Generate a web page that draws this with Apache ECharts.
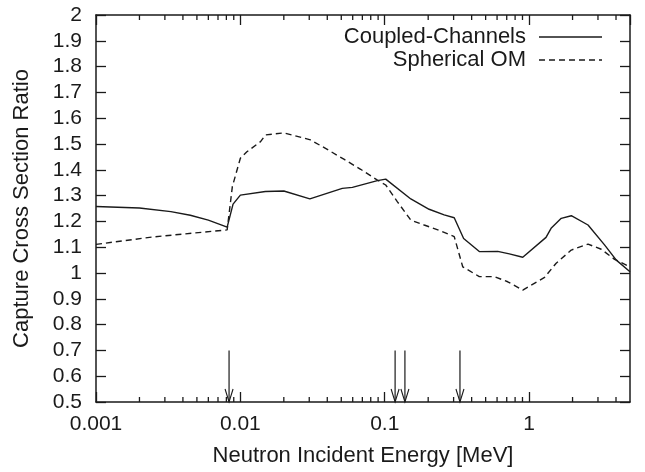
<!DOCTYPE html>
<html>
<head>
<meta charset="utf-8">
<script src="https://cdn.jsdelivr.net/npm/echarts@6/dist/echarts.min.js"></script>
<style>
  html, body { margin: 0; padding: 0; background: #fff; }
  #chart { width: 645px; height: 472px; }
</style>
</head>
<body>
<div id="chart"></div>
<script>
// Capture cross section ratio vs. neutron incident energy (MeV)
const ccEnergy = [0.001, 0.002, 0.0033, 0.0045, 0.006, 0.0081, 0.0089, 0.01, 0.0149, 0.02, 0.0303, 0.0508, 0.0597, 0.089, 0.1016, 0.1516, 0.203, 0.258, 0.303, 0.352, 0.452, 0.606, 0.73, 0.904, 1.31, 1.42, 1.67, 1.96, 2.56, 3.33, 4.02, 5.0];
const ccRatio  = [1.258, 1.252, 1.238, 1.224, 1.205, 1.178, 1.267, 1.302, 1.316, 1.318, 1.287, 1.328, 1.332, 1.358, 1.364, 1.287, 1.247, 1.225, 1.214, 1.134, 1.083, 1.084, 1.074, 1.061, 1.138, 1.173, 1.212, 1.222, 1.186, 1.109, 1.050, 1.005];

const omEnergy = [0.001, 0.0025, 0.0081, 0.0088, 0.01, 0.0111, 0.0138, 0.0149, 0.02, 0.0306, 0.04, 0.0521, 0.0681, 0.089, 0.1016, 0.1225, 0.1516, 0.1875, 0.245, 0.303, 0.347, 0.452, 0.574, 0.711, 0.904, 1.28, 1.54, 1.96, 2.56, 3.16, 3.91, 5.0];
const omRatio  = [1.111, 1.140, 1.167, 1.335, 1.445, 1.470, 1.509, 1.535, 1.543, 1.516, 1.479, 1.441, 1.402, 1.360, 1.341, 1.276, 1.205, 1.186, 1.163, 1.141, 1.024, 0.986, 0.986, 0.966, 0.934, 0.983, 1.038, 1.089, 1.112, 1.092, 1.053, 1.024];

// level energies marked with arrows
const arrowEnergy = [0.00835, 0.118, 0.138, 0.332];
const arrowTop = 0.7;

// axis ticks
const xDecades = [0.001, 0.01, 0.1, 1];
const xTickLabels = ['0.001', '0.01', '0.1', '1'];
const minorMultipliers = [2, 3, 4, 5, 6, 7, 8, 9];
const xMin = 0.001, xMax = 5;
const yMin = 0.5, yMax = 2, yStep = 0.1;

const seriesNames = ['Coupled-Channels', 'Spherical OM'];

const FONT = 'Liberation Sans, Arial, Helvetica, sans-serif';
const INK = '#1a1a1a';

const ccData = ccEnergy.map((e, i) => [e, ccRatio[i]]);
const omData = omEnergy.map((e, i) => [e, omRatio[i]]);

const minorTicks = [];
xDecades.forEach(d => minorMultipliers.forEach(m => {
  const v = d * m;
  if (v < xMax) minorTicks.push([v]);
}));

function fmtX(v) {
  for (let i = 0; i < xDecades.length; i++) {
    if (Math.abs(v - xDecades[i]) < xDecades[i] * 1e-6) return xTickLabels[i];
  }
  return '';
}

const chart = echarts.init(document.getElementById('chart'), null, { renderer: 'canvas' });

const tickStyle = { color: INK, width: 1.3 };

chart.setOption({
  backgroundColor: '#fff',
  animation: false,
  grid: { left: 96, right: 15, top: 15, bottom: 70, containLabel: false },
  xAxis: [
    {
      type: 'log', logBase: 10, min: xMin, max: xMax, position: 'bottom',
      axisLine: { show: true, lineStyle: { color: INK, width: 1.5 } },
      axisTick: { show: true, inside: true, length: 10, lineStyle: tickStyle },
      axisLabel: { show: true, margin: 12, fontSize: 21, fontFamily: FONT, color: INK, formatter: fmtX, showMaxLabel: false },
      splitLine: { show: false },
      name: 'Neutron Incident Energy [MeV]', nameLocation: 'middle', nameGap: 43,
      nameTextStyle: { fontSize: 22, fontFamily: FONT, color: INK }
    },
    {
      type: 'log', logBase: 10, min: xMin, max: xMax, position: 'top',
      axisLine: { show: true, lineStyle: { color: INK, width: 1.5 } },
      axisTick: { show: true, inside: true, length: 10, lineStyle: tickStyle },
      axisLabel: { show: false },
      splitLine: { show: false }
    }
  ],
  yAxis: [
    {
      type: 'value', min: yMin, max: yMax, interval: yStep, position: 'left',
      axisLine: { show: true, lineStyle: { color: INK, width: 1.5 } },
      axisTick: { show: true, inside: true, length: 10, lineStyle: tickStyle },
      axisLabel: { margin: 14, fontSize: 21, fontFamily: FONT, color: INK,
        formatter: v => String(Math.round(v * 10) / 10) },
      splitLine: { show: false },
      name: 'Capture Cross Section Ratio', nameLocation: 'middle', nameGap: 63, nameRotate: 90,
      nameTextStyle: { fontSize: 22, fontFamily: FONT, color: INK }
    },
    {
      type: 'value', min: yMin, max: yMax, interval: yStep, position: 'right',
      axisLine: { show: true, lineStyle: { color: INK, width: 1.5 } },
      axisTick: { show: true, inside: true, length: 10, lineStyle: tickStyle },
      axisLabel: { show: false },
      splitLine: { show: false }
    }
  ],
  series: [
    {
      name: seriesNames[0], type: 'line', data: ccData, showSymbol: false, symbol: 'none',
      lineStyle: { color: INK, width: 1.4, type: 'solid' }, z: 3
    },
    {
      name: seriesNames[1], type: 'line', data: omData, showSymbol: false, symbol: 'none',
      lineStyle: { color: INK, width: 1.4, type: [6, 4] }, z: 3
    },
    {
      // minor log ticks on bottom and top frame
      type: 'custom', data: minorTicks, silent: true, z: 4,
      renderItem: (params, api) => {
        const e = api.value(0);
        const b = api.coord([e, yMin]);
        const t = api.coord([e, yMax]);
        return {
          type: 'group',
          children: [
            { type: 'line', shape: { x1: b[0], y1: b[1], x2: b[0], y2: b[1] - 5 }, style: { stroke: INK, lineWidth: 1.3 } },
            { type: 'line', shape: { x1: t[0], y1: t[1], x2: t[0], y2: t[1] + 5 }, style: { stroke: INK, lineWidth: 1.3 } }
          ]
        };
      }
    },
    {
      // arrows marking level energies
      type: 'custom', data: arrowEnergy.map(e => [e]), silent: true, z: 4,
      renderItem: (params, api) => {
        const e = api.value(0);
        const top = api.coord([e, arrowTop]);
        const tip = api.coord([e, yMin]);
        return {
          type: 'group',
          children: [
            { type: 'line', shape: { x1: top[0], y1: top[1], x2: tip[0], y2: tip[1] }, style: { stroke: INK, lineWidth: 1.2 } },
            { type: 'polyline', shape: { points: [[tip[0] - 4, tip[1] - 13], [tip[0], tip[1]], [tip[0] + 4, tip[1] - 13]] },
              style: { stroke: INK, lineWidth: 1.1, fill: null } }
          ]
        };
      }
    }
  ],
  graphic: [
    { type: 'text', right: 645 - 526, top: 26, style: { text: seriesNames[0], font: '22px ' + FONT, fill: INK, textAlign: 'right' } },
    { type: 'line', shape: { x1: 539, y1: 37, x2: 602, y2: 37 }, style: { stroke: INK, lineWidth: 1.4 } },
    { type: 'text', right: 645 - 526, top: 49, style: { text: seriesNames[1], font: '22px ' + FONT, fill: INK, textAlign: 'right' } },
    { type: 'line', shape: { x1: 539, y1: 60, x2: 602, y2: 60 }, style: { stroke: INK, lineWidth: 1.4, lineDash: [6, 4] } }
  ]
});
</script>
</body>
</html>
